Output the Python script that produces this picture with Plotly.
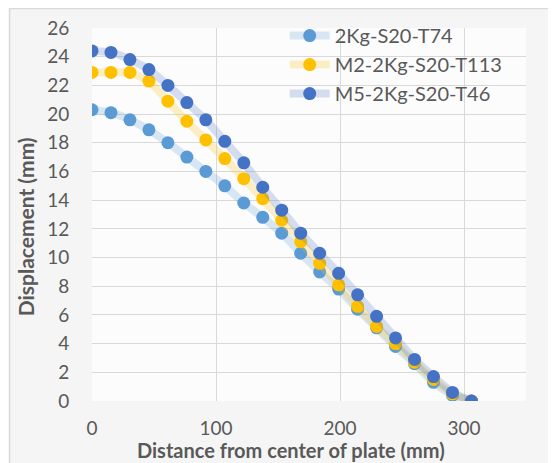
import plotly.graph_objects as go

distance = [0, 15.3, 30.6, 45.9, 61.2, 76.5, 91.8, 107.1, 122.4, 137.7, 153, 168.3,
            183.6, 198.9, 214.2, 229.5, 244.8, 260.1, 275.4, 290.7, 306]

disp_2kg_t74 = [20.3, 20.1, 19.6, 18.9, 18.0, 17.0, 16.0, 15.0, 13.8, 12.8, 11.7, 10.3,
                9.0, 7.8, 6.4, 5.1, 3.8, 2.6, 1.3, 0.4, 0.0]
disp_m2_t113 = [22.9, 22.9, 22.9, 22.3, 20.9, 19.5, 18.2, 16.9, 15.5, 14.1, 12.6, 11.1,
                9.6, 8.1, 6.6, 5.2, 4.0, 2.7, 1.5, 0.5, 0.0]
disp_m5_t46 = [24.4, 24.3, 23.8, 23.1, 22.0, 20.8, 19.6, 18.1, 16.6, 14.9, 13.3, 11.7,
               10.3, 8.9, 7.4, 5.9, 4.4, 2.9, 1.7, 0.6, 0.0]

series_names = ["2Kg-S20-T74", "M2-2Kg-S20-T113", "M5-2Kg-S20-T46"]
marker_colors = ["#5B9BD5", "#FFC000", "#4472C4"]
line_colors = ["rgba(91,155,213,0.22)", "rgba(255,192,0,0.22)", "rgba(68,114,196,0.22)"]

x_ticks = [0, 100, 200, 300]
y_ticks = list(range(0, 27, 2))
x_title = "Distance from center of plate (mm)"
y_title = "Displacement (mm)"

FONT = "Lato"
GRAY = "#595959"

fig = go.Figure()
for name, ys, mc, lc in zip(series_names, [disp_2kg_t74, disp_m2_t113, disp_m5_t46],
                            marker_colors, line_colors):
    fig.add_trace(go.Scatter(
        x=distance, y=ys, name=name, mode="lines+markers",
        line=dict(color=lc, width=8, shape="spline", smoothing=0.5),
        marker=dict(color=mc, size=13),
    ))

fig.update_layout(
    width=548, height=455,
    margin=dict(l=84, r=30, t=20, b=62, autoexpand=False),
    paper_bgcolor="white",
    plot_bgcolor="rgba(0,0,0,0)",
    font=dict(family=FONT, color=GRAY, size=19),
    showlegend=True,
    legend=dict(
        x=0.444, y=1.032, xanchor="left", yanchor="top",
        bgcolor="rgba(0,0,0,0)", font=dict(size=20, color=GRAY),
        itemwidth=40, tracegroupgap=0,
    ),
    xaxis=dict(
        range=[0, 350], tickvals=x_ticks, showgrid=True, gridcolor="#d9d9d9",
        gridwidth=1.3, zeroline=False, showline=False, ticks="outside", ticklen=10,
        tickcolor="rgba(0,0,0,0)", tickfont=dict(size=19, color=GRAY),
        automargin=False,
    ),
    yaxis=dict(
        range=[0, 26], tickvals=y_ticks, showgrid=True, gridcolor="#d9d9d9",
        gridwidth=1.3, zeroline=False, showline=False, ticks="outside", ticklen=18,
        tickcolor="rgba(0,0,0,0)", tickfont=dict(size=19, color=GRAY),
        automargin=False,
    ),
    annotations=[
        dict(text="<b>" + x_title + "</b>", xref="paper", yref="paper",
             x=0.459, y=-0.132, xanchor="center", yanchor="middle", showarrow=False,
             font=dict(size=20, color=GRAY, family=FONT)),
        dict(text="<b>" + y_title + "</b>", xref="paper", yref="paper",
             x=-0.154, y=0.466, xanchor="center", yanchor="middle", showarrow=False,
             textangle=-90, font=dict(size=21, color=GRAY, family=FONT)),
    ],
    shapes=[
        dict(type="rect", xref="paper", yref="paper", layer="below",
             x0=-0.19, x1=1.1, y0=-0.2, y1=1.052,
             fillcolor="#f5f5f5", line=dict(color="#d9d9d9", width=1.5)),
        dict(type="rect", xref="paper", yref="paper", layer="below",
             x0=0, x1=1, y0=0, y1=1, fillcolor="#fcfcfc", line=dict(width=0)),
    ],
)

fig.write_html("out.html")
